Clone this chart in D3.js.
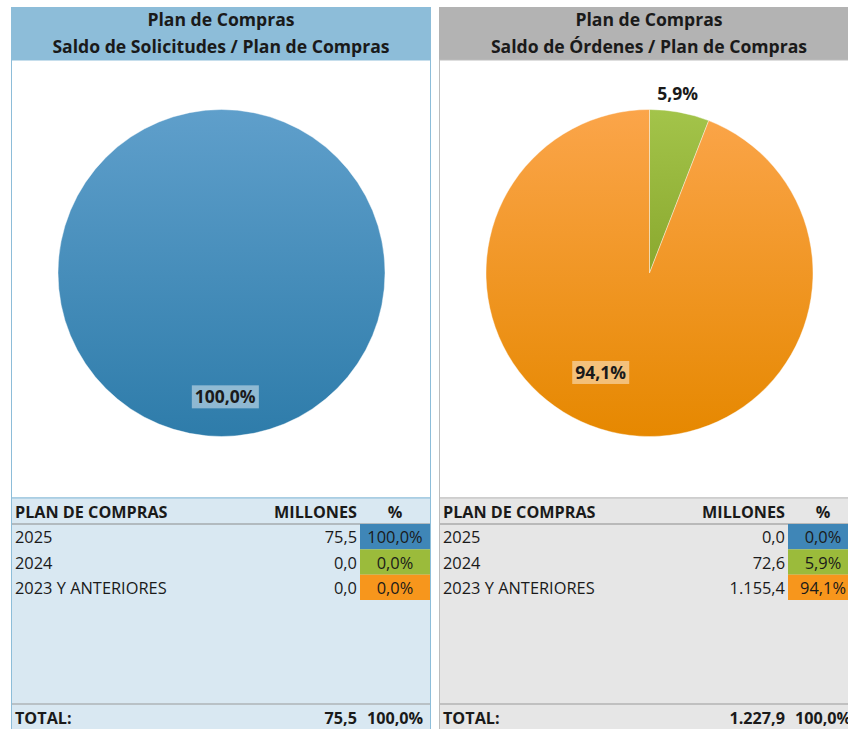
<!DOCTYPE html>
<html>
<head>
<meta charset="utf-8">
<script src="https://cdn.jsdelivr.net/npm/d3@7"></script>
<style>
  body { margin: 0; background: #fff; }
  text { font-family: "Open Sans", "Noto Sans", sans-serif; fill: #1a1a1a; }
  .title { font-weight: bold; font-size: 17.6px; }
  .th { font-weight: bold; font-size: 16.2px; }
  .td { font-size: 16.4px; }
  .lbl { font-weight: bold; font-size: 17.5px; }
</style>
</head>
<body>
<div id="chart"></div>
<script>
// data
var categories = ["2025", "2024", "2023 Y ANTERIORES"];
var solicitudesMillones = [75.5, 0.0, 0.0];
var solicitudesPct = [100.0, 0.0, 0.0];
var ordenesMillones = [0.0, 72.6, 1155.4];
var ordenesPct = [0.0, 5.9, 94.1];
var totalsMillones = [75.5, 1227.9];
var titles = [
  ["Plan de Compras", "Saldo de Solicitudes / Plan de Compras"],
  ["Plan de Compras", "Saldo de Órdenes / Plan de Compras"]
];
var colHeaders = ["PLAN DE COMPRAS", "MILLONES", "%"];

var sliceColors = ["#3f86b7", "#9bbb3b", "#f7961c"];
var gradStops = [["#5f9fcb", "#2e7caa"], ["#a3c44a", "#8aa82e"], ["#fba54a", "#e68800"]];

var fmtNum = d3.formatLocale({ decimal: ",", thousands: ".", grouping: [3], currency: ["", ""] }).format(",.1f");
var fmtPct = function(v) { return fmtNum(v) + "%"; };

var width = 848, height = 729;

var svg = d3.select("#chart").append("svg")
  .attr("width", width)
  .attr("height", height);

var defs = svg.append("defs");
gradStops.forEach(function(s, i) {
  var g = defs.append("linearGradient")
    .attr("id", "grad" + i)
    .attr("x1", 0).attr("y1", 0).attr("x2", 0).attr("y2", 1);
  g.append("stop").attr("offset", "0%").attr("stop-color", s[0]);
  g.append("stop").attr("offset", "100%").attr("stop-color", s[1]);
});

var panels = [
  { x0: 11, title: titles[0], values: solicitudesMillones, pct: solicitudesPct, total: totalsMillones[0],
    head: "#8dbdd9", border: "#8dbdd9", tableBg: "#d9e8f2" },
  { x0: 439, title: titles[1], values: ordenesMillones, pct: ordenesPct, total: totalsMillones[1],
    head: "#b3b3b3", border: "#bdbdbd", tableBg: "#e6e6e6" }
];

var panelW = 420;
var headTop = 7, headBot = 60, tableTop = 498;

var pie = d3.pie().sort(null).value(function(d) { return d; });

panels.forEach(function(p) {
  var g = svg.append("g").attr("transform", "translate(" + p.x0 + ",0)");

  // header
  g.append("rect")
    .attr("x", 0).attr("y", headTop)
    .attr("width", panelW).attr("height", headBot - headTop)
    .attr("fill", p.head);
  g.selectAll("text.title")
    .data(p.title)
    .enter().append("text")
    .attr("class", "title")
    .attr("x", panelW / 2)
    .attr("y", function(d, i) { return 26 + i * 27; })
    .attr("text-anchor", "middle")
    .text(function(d) { return d; });

  // chart area
  g.append("rect")
    .attr("x", 0.5).attr("y", headBot)
    .attr("width", panelW - 1).attr("height", tableTop - headBot)
    .attr("fill", "#fff")
    .attr("stroke", p.border);

  // table area
  g.append("rect")
    .attr("x", 0.5).attr("y", tableTop)
    .attr("width", panelW - 1).attr("height", height - tableTop + 5)
    .attr("fill", p.tableBg)
    .attr("stroke", p.border);

  // pie
  var cx = panelW / 2 + 0.5, cy = 273, r = 163.5;
  var arcs = pie(p.pct);
  var arc = d3.arc().innerRadius(0).outerRadius(r);
  var pg = g.append("g").attr("transform", "translate(" + cx + "," + cy + ")");
  pg.selectAll("path")
    .data(arcs.filter(function(d) { return d.value > 0; }))
    .enter().append("path")
    .attr("d", arc)
    .attr("fill", function(d) { return "url(#grad" + d.index + ")"; })
    .attr("stroke", "#fff")
    .attr("stroke-opacity", 0.5)
    .attr("stroke-width", 0.8);

  // labels
  arcs.filter(function(d) { return d.value > 0; }).forEach(function(d) {
    var frac = (d.endAngle - d.startAngle) / (2 * Math.PI);
    var inside = frac > 0.2;
    var lr = inside ? r * (frac > 0.99 ? 0.76 : 0.68) : r * 1.11;
    var a = (d.startAngle + d.endAngle) / 2 + (inside && frac < 0.99 ? 0.27 : -0.03);
    var lx = Math.sin(a) * lr, ly = -Math.cos(a) * lr;
    var lg = pg.append("g").attr("transform", "translate(" + lx + "," + ly + ")");
    var t = lg.append("text")
      .attr("class", "lbl")
      .attr("text-anchor", "middle")
      .attr("dy", "0.35em")
      .text(fmtPct(d.value));
    if (inside) {
      var bb = t.node().getBBox();
      lg.insert("rect", "text")
        .attr("x", bb.x - 3).attr("y", bb.y + 1)
        .attr("width", bb.width + 6).attr("height", bb.height - 1)
        .attr("fill", "#fff")
        .attr("fill-opacity", 0.45);
    }
  });

  // table
  var colLabel = 4, colVal = 346, pctX0 = 349, pctX1 = 419;
  var y = d3.scaleBand().domain(categories).range([524, 600]);

  g.append("line")
    .attr("x1", 1).attr("x2", panelW - 1)
    .attr("y1", 524).attr("y2", 524)
    .attr("stroke", "#8c8c8c").attr("stroke-width", 1.2);

  g.append("text").attr("class", "th").attr("x", colLabel).attr("y", 518).text(colHeaders[0]);
  g.append("text").attr("class", "th").attr("x", colVal).attr("y", 518)
    .attr("text-anchor", "end").text(colHeaders[1]);
  g.append("text").attr("class", "th").attr("x", (pctX0 + pctX1) / 2).attr("y", 518)
    .attr("text-anchor", "middle").text(colHeaders[2]);

  var rows = g.selectAll("g.row")
    .data(categories)
    .enter().append("g")
    .attr("class", "row")
    .attr("transform", function(d) { return "translate(0," + y(d) + ")"; });

  rows.append("rect")
    .attr("x", pctX0).attr("width", pctX1 - pctX0)
    .attr("height", y.bandwidth())
    .attr("fill", function(d, i) { return sliceColors[i]; });

  rows.append("text").attr("class", "td")
    .attr("x", colLabel).attr("y", y.bandwidth() / 2).attr("dy", "0.4em")
    .text(function(d) { return d; });
  rows.append("text").attr("class", "td")
    .attr("x", colVal).attr("y", y.bandwidth() / 2).attr("dy", "0.4em")
    .attr("text-anchor", "end")
    .text(function(d, i) { return fmtNum(p.values[i]); });
  rows.append("text").attr("class", "td")
    .attr("x", (pctX0 + pctX1) / 2).attr("y", y.bandwidth() / 2).attr("dy", "0.4em")
    .attr("text-anchor", "middle")
    .text(function(d, i) { return fmtPct(p.pct[i]); });

  // total
  g.append("line")
    .attr("x1", 1).attr("x2", panelW - 1)
    .attr("y1", 704).attr("y2", 704)
    .attr("stroke", "#9a9a9a").attr("stroke-width", 1.2);
  g.append("text").attr("class", "th").attr("x", colLabel).attr("y", 724).text("TOTAL:");
  g.append("text").attr("class", "th").attr("x", colVal).attr("y", 724)
    .attr("text-anchor", "end").text(fmtNum(p.total));
  g.append("text").attr("class", "th").attr("x", (pctX0 + pctX1) / 2).attr("y", 724)
    .attr("text-anchor", "middle").text(fmtPct(d3.sum(p.pct)));
});
</script>
</body>
</html>
